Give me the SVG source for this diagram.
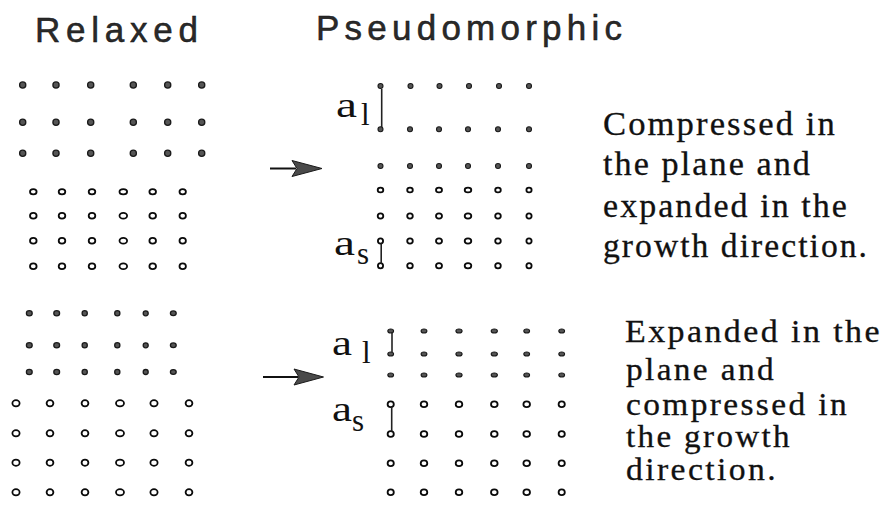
<svg xmlns="http://www.w3.org/2000/svg" width="888" height="511" viewBox="0 0 888 511">
<defs>
<style>
.fd{fill:#555;stroke:#1a1a1a;stroke-width:1.3}
.fs{fill:#555;stroke:#1a1a1a;stroke-width:1.1}
.od{fill:#fff;stroke:#0a0a0a;stroke-width:1.8}
.br{stroke:#222;stroke-width:1.6;fill:none}
.title{font-family:"Liberation Sans",Arial,sans-serif;font-size:35px;fill:#2a2a2a;stroke:#111;stroke-width:0.5}
.serif{font-family:"Liberation Serif","Times New Roman",serif;fill:#111}
.lab{font-size:36px}
.sub{font-size:31px}
.desc1{font-size:33px;stroke:#111;stroke-width:0.3;letter-spacing:2px}
.desc2{font-size:31px;stroke:#111;stroke-width:0.3;letter-spacing:2.2px}
.arrow{stroke:#111;stroke-width:2;fill:none}
.head{fill:#4a4a4a;stroke:#1a1a1a;stroke-width:1}
</style>
</defs>
<rect width="888" height="511" fill="#fff"/>

<g id="titles">
<text class="title" x="35" y="41.7" textLength="163">Relaxed</text>
<text class="title" x="316" y="39.5" textLength="306">Pseudomorphic</text>
</g>

<g id="relaxed-top">
<g id="relaxed-top-layer">
<circle class="fd" cx="22.7" cy="85" r="3.1"/><circle class="fd" cx="56" cy="85" r="3.1"/><circle class="fd" cx="90.7" cy="85" r="3.1"/><circle class="fd" cx="133.3" cy="85" r="3.1"/><circle class="fd" cx="167.7" cy="85" r="3.1"/><circle class="fd" cx="201.7" cy="85" r="3.1"/>
<circle class="fd" cx="22.7" cy="122.3" r="3.1"/><circle class="fd" cx="56" cy="122.3" r="3.1"/><circle class="fd" cx="90.7" cy="122.3" r="3.1"/><circle class="fd" cx="133.3" cy="122.3" r="3.1"/><circle class="fd" cx="167.7" cy="122.3" r="3.1"/><circle class="fd" cx="201.7" cy="122.3" r="3.1"/>
<circle class="fd" cx="22.7" cy="153.3" r="3.1"/><circle class="fd" cx="56" cy="153.3" r="3.1"/><circle class="fd" cx="90.7" cy="153.3" r="3.1"/><circle class="fd" cx="133.3" cy="153.3" r="3.1"/><circle class="fd" cx="167.7" cy="153.3" r="3.1"/><circle class="fd" cx="201.7" cy="153.3" r="3.1"/>
</g>
<g id="relaxed-top-substrate">
<ellipse class="od" cx="33.3" cy="191.7" rx="3.3" ry="2.6"/><ellipse class="od" cx="62" cy="191.7" rx="3.3" ry="2.6"/><ellipse class="od" cx="92" cy="191.7" rx="3.3" ry="2.6"/><ellipse class="od" cx="123.3" cy="191.7" rx="3.8" ry="2.6"/><ellipse class="od" cx="152.7" cy="191.7" rx="3.3" ry="2.6"/><ellipse class="od" cx="182.7" cy="191.7" rx="3.2" ry="2.6"/>
<ellipse class="od" cx="33.3" cy="215.7" rx="3.3" ry="2.9"/><ellipse class="od" cx="62" cy="215.7" rx="3.3" ry="2.9"/><ellipse class="od" cx="92" cy="215.7" rx="3.3" ry="2.9"/><ellipse class="od" cx="123.3" cy="215.7" rx="3.8" ry="2.9"/><ellipse class="od" cx="152.7" cy="215.7" rx="3.3" ry="2.9"/><ellipse class="od" cx="182.7" cy="215.7" rx="3.2" ry="2.9"/>
<ellipse class="od" cx="33.3" cy="240.7" rx="3.3" ry="2.9"/><ellipse class="od" cx="62" cy="240.7" rx="3.3" ry="2.9"/><ellipse class="od" cx="92" cy="240.7" rx="3.3" ry="2.9"/><ellipse class="od" cx="123.3" cy="240.7" rx="3.8" ry="2.9"/><ellipse class="od" cx="152.7" cy="240.7" rx="3.3" ry="2.9"/><ellipse class="od" cx="182.7" cy="240.7" rx="3.2" ry="2.9"/>
<ellipse class="od" cx="33.3" cy="266.3" rx="3.3" ry="2.9"/><ellipse class="od" cx="62" cy="266.3" rx="3.3" ry="2.9"/><ellipse class="od" cx="92" cy="266.3" rx="3.3" ry="2.9"/><ellipse class="od" cx="123.3" cy="266.3" rx="3.8" ry="2.9"/><ellipse class="od" cx="152.7" cy="266.3" rx="3.3" ry="2.9"/><ellipse class="od" cx="182.7" cy="266.3" rx="3.2" ry="2.9"/>
</g>
</g>

<g id="pseudo-top">
<g id="pseudo-top-layer">
<circle class="fs" cx="380.5" cy="86" r="2.5"/><circle class="fs" cx="410.5" cy="86" r="2.5"/><circle class="fs" cx="439.5" cy="86" r="2.5"/><circle class="fs" cx="469" cy="86" r="2.5"/><circle class="fs" cx="499" cy="86" r="2.5"/><circle class="fs" cx="529" cy="86" r="2.5"/>
<circle class="fs" cx="380.5" cy="129.3" r="2.5"/><circle class="fs" cx="410" cy="129.3" r="2.5"/><circle class="fs" cx="439" cy="129.3" r="2.5"/><circle class="fs" cx="468" cy="129.3" r="2.5"/><circle class="fs" cx="498" cy="129.3" r="2.5"/><circle class="fs" cx="529" cy="129.3" r="2.5"/>
<circle class="fs" cx="380.5" cy="166" r="2.5"/><circle class="fs" cx="410" cy="166" r="2.5"/><circle class="fs" cx="439" cy="166" r="2.5"/><circle class="fs" cx="468" cy="166" r="2.5"/><circle class="fs" cx="498" cy="166" r="2.5"/><circle class="fs" cx="529" cy="166" r="2.5"/>
</g>
<g id="pseudo-top-substrate">
<ellipse class="od" cx="380.5" cy="190" rx="2.8" ry="2.4"/><ellipse class="od" cx="410" cy="190" rx="2.8" ry="2.4"/><ellipse class="od" cx="439" cy="190" rx="3" ry="2.4"/><ellipse class="od" cx="468" cy="190" rx="3.3" ry="2.4"/><ellipse class="od" cx="498" cy="190" rx="2.8" ry="2.4"/><ellipse class="od" cx="529" cy="190" rx="2.6" ry="2.4"/>
<ellipse class="od" cx="380.5" cy="216" rx="2.8" ry="2.6"/><ellipse class="od" cx="410" cy="216" rx="2.8" ry="2.6"/><ellipse class="od" cx="439" cy="216" rx="3" ry="2.6"/><ellipse class="od" cx="468" cy="216" rx="3.3" ry="2.6"/><ellipse class="od" cx="498" cy="216" rx="2.8" ry="2.6"/><ellipse class="od" cx="529" cy="216" rx="2.6" ry="2.6"/>
<ellipse class="od" cx="380.5" cy="241" rx="2.6" ry="2.6"/><ellipse class="od" cx="410" cy="241" rx="2.8" ry="2.6"/><ellipse class="od" cx="439" cy="241" rx="3" ry="2.6"/><ellipse class="od" cx="468" cy="241" rx="3.3" ry="2.6"/><ellipse class="od" cx="498" cy="241" rx="2.8" ry="2.6"/><ellipse class="od" cx="529" cy="241" rx="2.6" ry="2.6"/>
<ellipse class="od" cx="380.5" cy="265.7" rx="2.6" ry="2.6"/><ellipse class="od" cx="410" cy="265.7" rx="2.8" ry="2.6"/><ellipse class="od" cx="439" cy="265.7" rx="3" ry="2.6"/><ellipse class="od" cx="468" cy="265.7" rx="3.3" ry="2.6"/><ellipse class="od" cx="498" cy="265.7" rx="2.8" ry="2.6"/><ellipse class="od" cx="529" cy="265.7" rx="2.6" ry="2.6"/>
</g>
<g id="pseudo-top-labels">
<path class="br" d="M381.7 89 V127"/>
<path class="br" d="M381.2 243.5 V263.5"/>
<text class="serif lab" x="336" y="116.5" textLength="21" lengthAdjust="spacingAndGlyphs">a</text>
<text class="serif sub" x="361" y="125">l</text>
<text class="serif lab" x="334" y="255" textLength="21" lengthAdjust="spacingAndGlyphs">a</text>
<text class="serif sub" x="357" y="263.5">s</text>
</g>
</g>

<g id="text-top">
<text class="serif desc1" x="603" y="135" textLength="234" lengthAdjust="spacingAndGlyphs">Compressed in</text>
<text class="serif desc1" x="603" y="175" textLength="209" lengthAdjust="spacingAndGlyphs">the plane and</text>
<text class="serif desc1" x="603" y="216.7" textLength="246" lengthAdjust="spacingAndGlyphs">expanded in the</text>
<text class="serif desc1" x="603" y="256.7" textLength="266" lengthAdjust="spacingAndGlyphs">growth direction.</text>
</g>

<g id="relaxed-bottom">
<g id="relaxed-bottom-layer">
<ellipse class="fd" cx="29.3" cy="313.3" rx="2.9" ry="2.6"/><ellipse class="fd" cx="56.7" cy="313.3" rx="2.9" ry="2.6"/><ellipse class="fd" cx="84.7" cy="313.3" rx="2.6" ry="2.6"/><ellipse class="fd" cx="117.3" cy="313.3" rx="2.6" ry="2.6"/><ellipse class="fd" cx="145.7" cy="313.3" rx="2.5" ry="2.5"/><ellipse class="fd" cx="173.3" cy="313.3" rx="2.9" ry="2.4"/>
<ellipse class="fd" cx="29.3" cy="345.3" rx="2.9" ry="2.6"/><ellipse class="fd" cx="56.7" cy="345.3" rx="2.9" ry="2.6"/><ellipse class="fd" cx="84.7" cy="345.3" rx="2.6" ry="2.6"/><ellipse class="fd" cx="117.3" cy="345.3" rx="2.6" ry="2.6"/><ellipse class="fd" cx="145.7" cy="345.3" rx="2.5" ry="2.5"/><ellipse class="fd" cx="173.3" cy="345.3" rx="2.9" ry="2.4"/>
<ellipse class="fd" cx="29.3" cy="372" rx="2.9" ry="2.6"/><ellipse class="fd" cx="56.7" cy="372" rx="2.9" ry="2.6"/><ellipse class="fd" cx="84.7" cy="372" rx="2.6" ry="2.6"/><ellipse class="fd" cx="117.3" cy="372" rx="2.6" ry="2.6"/><ellipse class="fd" cx="145.7" cy="372" rx="2.5" ry="2.5"/><ellipse class="fd" cx="173.3" cy="372" rx="2.9" ry="2.4"/>
</g>
<g id="relaxed-bottom-substrate">
<ellipse class="od" cx="16" cy="403.3" rx="3.6" ry="3.1"/><ellipse class="od" cx="50" cy="403.3" rx="3.4" ry="3.1"/><ellipse class="od" cx="85" cy="403.3" rx="3.4" ry="3.1"/><ellipse class="od" cx="120" cy="403.3" rx="4" ry="3.1"/><ellipse class="od" cx="154" cy="403.3" rx="3.6" ry="3.1"/><ellipse class="od" cx="189" cy="403.3" rx="3.4" ry="3.1"/>
<ellipse class="od" cx="16" cy="433.3" rx="3.6" ry="3.1"/><ellipse class="od" cx="50" cy="433.3" rx="3.4" ry="3.1"/><ellipse class="od" cx="85" cy="433.3" rx="3.4" ry="3.1"/><ellipse class="od" cx="120" cy="433.3" rx="4" ry="3.1"/><ellipse class="od" cx="154" cy="433.3" rx="3.6" ry="3.1"/><ellipse class="od" cx="189" cy="433.3" rx="3.4" ry="3.1"/>
<ellipse class="od" cx="16" cy="462.7" rx="3.6" ry="3.1"/><ellipse class="od" cx="50" cy="462.7" rx="3.4" ry="3.1"/><ellipse class="od" cx="85" cy="462.7" rx="3.4" ry="3.1"/><ellipse class="od" cx="120" cy="462.7" rx="4" ry="3.1"/><ellipse class="od" cx="154" cy="462.7" rx="3.6" ry="3.1"/><ellipse class="od" cx="189" cy="462.7" rx="3.4" ry="3.1"/>
<ellipse class="od" cx="16" cy="492.3" rx="3.6" ry="3.1"/><ellipse class="od" cx="50" cy="492.3" rx="3.4" ry="3.1"/><ellipse class="od" cx="85" cy="492.3" rx="3.4" ry="3.1"/><ellipse class="od" cx="120" cy="492.3" rx="4" ry="3.1"/><ellipse class="od" cx="154" cy="492.3" rx="3.6" ry="3.1"/><ellipse class="od" cx="189" cy="492.3" rx="3.4" ry="3.1"/>
</g>
</g>

<g id="pseudo-bottom">
<g id="pseudo-bottom-layer">
<ellipse class="fs" cx="390.7" cy="331" rx="2.9" ry="2"/><ellipse class="fs" cx="424" cy="331" rx="2.9" ry="2"/><ellipse class="fs" cx="459" cy="331" rx="3.1" ry="2"/><ellipse class="fs" cx="494.3" cy="331" rx="3.1" ry="2"/><ellipse class="fs" cx="526.7" cy="331" rx="2.9" ry="2"/><ellipse class="fs" cx="561.7" cy="331" rx="2.9" ry="2"/>
<ellipse class="fs" cx="390.7" cy="354" rx="2.9" ry="2"/><ellipse class="fs" cx="424" cy="354" rx="2.9" ry="2"/><ellipse class="fs" cx="459" cy="354" rx="3.1" ry="2"/><ellipse class="fs" cx="494.3" cy="354" rx="3.1" ry="2"/><ellipse class="fs" cx="526.7" cy="354" rx="2.9" ry="2"/><ellipse class="fs" cx="561.7" cy="354" rx="2.9" ry="2"/>
<ellipse class="fs" cx="390.7" cy="375" rx="2.9" ry="2"/><ellipse class="fs" cx="424" cy="375" rx="2.9" ry="2"/><ellipse class="fs" cx="459" cy="375" rx="3.1" ry="2"/><ellipse class="fs" cx="494.3" cy="375" rx="3.1" ry="2"/><ellipse class="fs" cx="526.7" cy="375" rx="2.9" ry="2"/><ellipse class="fs" cx="561.7" cy="375" rx="2.9" ry="2"/>
</g>
<g id="pseudo-bottom-substrate">
<ellipse class="od" cx="390.7" cy="404.3" rx="3.1" ry="2.9"/><ellipse class="od" cx="424" cy="404.3" rx="3.3" ry="2.9"/><ellipse class="od" cx="459" cy="404.3" rx="3.3" ry="2.9"/><ellipse class="od" cx="494.3" cy="404.3" rx="3.3" ry="2.9"/><ellipse class="od" cx="526.7" cy="404.3" rx="3.3" ry="2.9"/><ellipse class="od" cx="561.7" cy="404.3" rx="3.1" ry="2.9"/>
<ellipse class="od" cx="390.7" cy="434" rx="3.1" ry="2.9"/><ellipse class="od" cx="424" cy="434" rx="3.3" ry="2.9"/><ellipse class="od" cx="459" cy="434" rx="3.3" ry="2.9"/><ellipse class="od" cx="494.3" cy="434" rx="3.3" ry="2.9"/><ellipse class="od" cx="526.7" cy="434" rx="3.3" ry="2.9"/><ellipse class="od" cx="561.7" cy="434" rx="3.1" ry="2.9"/>
<ellipse class="od" cx="390.7" cy="463.3" rx="3.1" ry="2.9"/><ellipse class="od" cx="424" cy="463.3" rx="3.3" ry="2.9"/><ellipse class="od" cx="459" cy="463.3" rx="3.3" ry="2.9"/><ellipse class="od" cx="494.3" cy="463.3" rx="3.3" ry="2.9"/><ellipse class="od" cx="526.7" cy="463.3" rx="3.3" ry="2.9"/><ellipse class="od" cx="561.7" cy="463.3" rx="3.1" ry="2.9"/>
<ellipse class="od" cx="390.7" cy="492.3" rx="3.1" ry="2.9"/><ellipse class="od" cx="424" cy="492.3" rx="3.3" ry="2.9"/><ellipse class="od" cx="459" cy="492.3" rx="3.3" ry="2.9"/><ellipse class="od" cx="494.3" cy="492.3" rx="3.3" ry="2.9"/><ellipse class="od" cx="526.7" cy="492.3" rx="3.3" ry="2.9"/><ellipse class="od" cx="561.7" cy="492.3" rx="3.1" ry="2.9"/>
</g>
<g id="pseudo-bottom-labels">
<path class="br" d="M392 332.5 V352.5"/>
<path class="br" d="M391.7 406.5 V431.5"/>
<text class="serif lab" x="332" y="354.5" textLength="20" lengthAdjust="spacingAndGlyphs">a</text>
<text class="serif sub" x="362" y="363">l</text>
<text class="serif lab" x="332" y="420.5" textLength="20" lengthAdjust="spacingAndGlyphs">a</text>
<text class="serif sub" x="352" y="431">s</text>
</g>
</g>

<g id="text-bottom">
<text class="serif desc2" x="625" y="341.7" textLength="257" lengthAdjust="spacingAndGlyphs">Expanded in the</text>
<text class="serif desc2" x="626" y="380" textLength="150" lengthAdjust="spacingAndGlyphs">plane and</text>
<text class="serif desc2" x="626" y="415" textLength="223" lengthAdjust="spacingAndGlyphs">compressed in</text>
<text class="serif desc2" x="626" y="446.7" textLength="166" lengthAdjust="spacingAndGlyphs">the growth</text>
<text class="serif desc2" x="626" y="480" textLength="152" lengthAdjust="spacingAndGlyphs">direction.</text>
</g>

<g id="connectors">
<g id="arrow-top">
<path class="arrow" d="M270 168.5 H296"/>
<path class="head" d="M292 160.5 L322 168.5 L292 176.5 L297 168.5 Z"/>
</g>
<g id="arrow-bottom">
<path class="arrow" d="M263 377 H298"/>
<path class="head" d="M294 369 L323.5 377 L294 385 L299 377 Z"/>
</g>
</g>
</svg>
